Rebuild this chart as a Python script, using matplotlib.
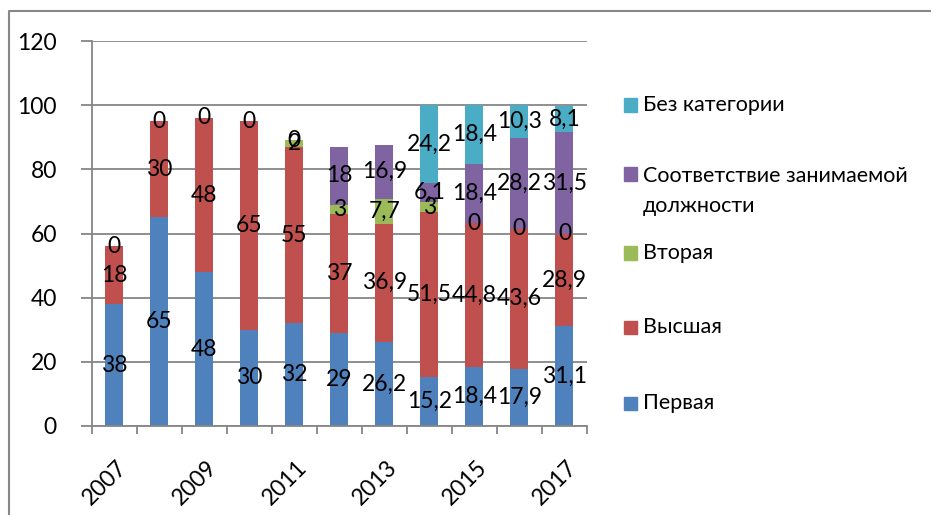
import matplotlib
matplotlib.use("Agg")
import matplotlib.pyplot as plt
from matplotlib.lines import Line2D
from matplotlib.patches import Rectangle
import matplotlib.transforms as mtransforms
import numpy as np

plt.rcParams['font.family'] = ['Lato', 'DejaVu Sans']

years = [2007, 2008, 2009, 2010, 2011, 2012, 2013, 2014, 2015, 2016, 2017]
tick_years = ["2007", "2009", "2011", "2013", "2015", "2017"]

pervaya = [38, 65, 48, 30, 32, 29, 26.2, 15.2, 18.4, 17.9, 31.1]
vysshaya = [18, 30, 48, 65, 55, 37, 36.9, 51.5, 44.8, 43.6, 28.9]
vtoraya = [0, 0, 0, 0, 2, 3, 7.7, 3, 0, 0, 0]
sootv = [None, None, None, None, 0, 18, 16.9, 6.1, 18.4, 28.2, 31.5]
bez_kat = [None, None, None, None, None, None, None, 24.2, 18.4, 10.3, 8.1]

series_names = ["Первая", "Высшая", "Вторая",
                "Соответствие занимаемой\nдолжности", "Без категории"]
series_vals = [pervaya, vysshaya, vtoraya, sootv, bez_kat]
colors = ["#4F81BD", "#C0504D", "#9BBB59", "#8064A2", "#4BACC6"]

W, H = 931, 515
fig = plt.figure(figsize=(W / 100, H / 100), dpi=100)
ax = fig.add_axes([91.5 / W, 1 - 426 / H, (587 - 91.5) / W, (426 - 41) / H])

x = np.arange(len(years))
bottom = np.zeros(len(years))
grid_c = "#868686"

def fmt(v):
    s = ("%g" % v).replace(".", ",")
    return s

for vals, col in zip(series_vals, colors):
    idx = [i for i, v in enumerate(vals) if v is not None]
    hv = np.array([vals[i] for i in idx], dtype=float)
    bt = bottom[idx]
    cont = ax.bar(x[idx], hv, bottom=bt, width=0.4, color=col, zorder=3,
                  edgecolor='none')
    ax.bar_label(cont, labels=[fmt(v) for v in hv], label_type='center',
                 fontsize=16.5, color='black', zorder=5)
    bottom[idx] += hv

ax.set_xlim(-0.5, len(years) - 0.5)
ax.set_ylim(0, 120)
ax.set_yticks(np.arange(0, 121, 20))
ax.yaxis.grid(True, color=grid_c, linewidth=1.3, zorder=0)
ax.tick_params(axis='y', length=8, width=1.3, color=grid_c, pad=17,
               labelsize=16.5)

# category boundary ticks
ax.set_xticks(np.arange(-0.5, len(years), 1.0))
ax.set_xticklabels([])
ax.tick_params(axis='x', which='major', length=6, width=1.3, color=grid_c)
ax.set_xticks(x[::2], minor=True)
ax.set_xticklabels(tick_years, minor=True, rotation=45, ha='right', va='top',
                   fontsize=16.5)
ax.tick_params(axis='x', which='minor', length=0, pad=22)
off = mtransforms.ScaledTranslation(17 / 100, 0, fig.dpi_scale_trans)
for lab in ax.get_xticklabels(minor=True):
    lab.set_transform(lab.get_transform() + off)

for s in ['top', 'right']:
    ax.spines[s].set_visible(False)
for s in ['left', 'bottom']:
    ax.spines[s].set_color(grid_c)
    ax.spines[s].set_linewidth(1.3)
    ax.spines[s].set_zorder(4)

# legend (manual, Excel style: reversed order)
leg_y = [403, 327, 253, 174, 105]
for name, col, yc in zip(series_names, colors, leg_y):
    fig.add_artist(Rectangle((624 / W, 1 - (yc + 6.5) / H), 13 / W, 13 / H,
                             transform=fig.transFigure, color=col))
    if '\n' in name:
        fig.text(643 / W, 1 - (yc - 8) / H, name, fontsize=15.5, va='top',
                 ha='left', linespacing=1.65)
    else:
        fig.text(643 / W, 1 - yc / H, name, fontsize=15.5, va='center',
                 ha='left')

# outer chart border (partially cropped)
fig.add_artist(Line2D([9 / W, 9 / W, 1.0], [0.0, 1 - 11 / H, 1 - 11 / H],
                      transform=fig.transFigure, color="#878787", linewidth=1.5))

fig.savefig("out.png", dpi=100)
